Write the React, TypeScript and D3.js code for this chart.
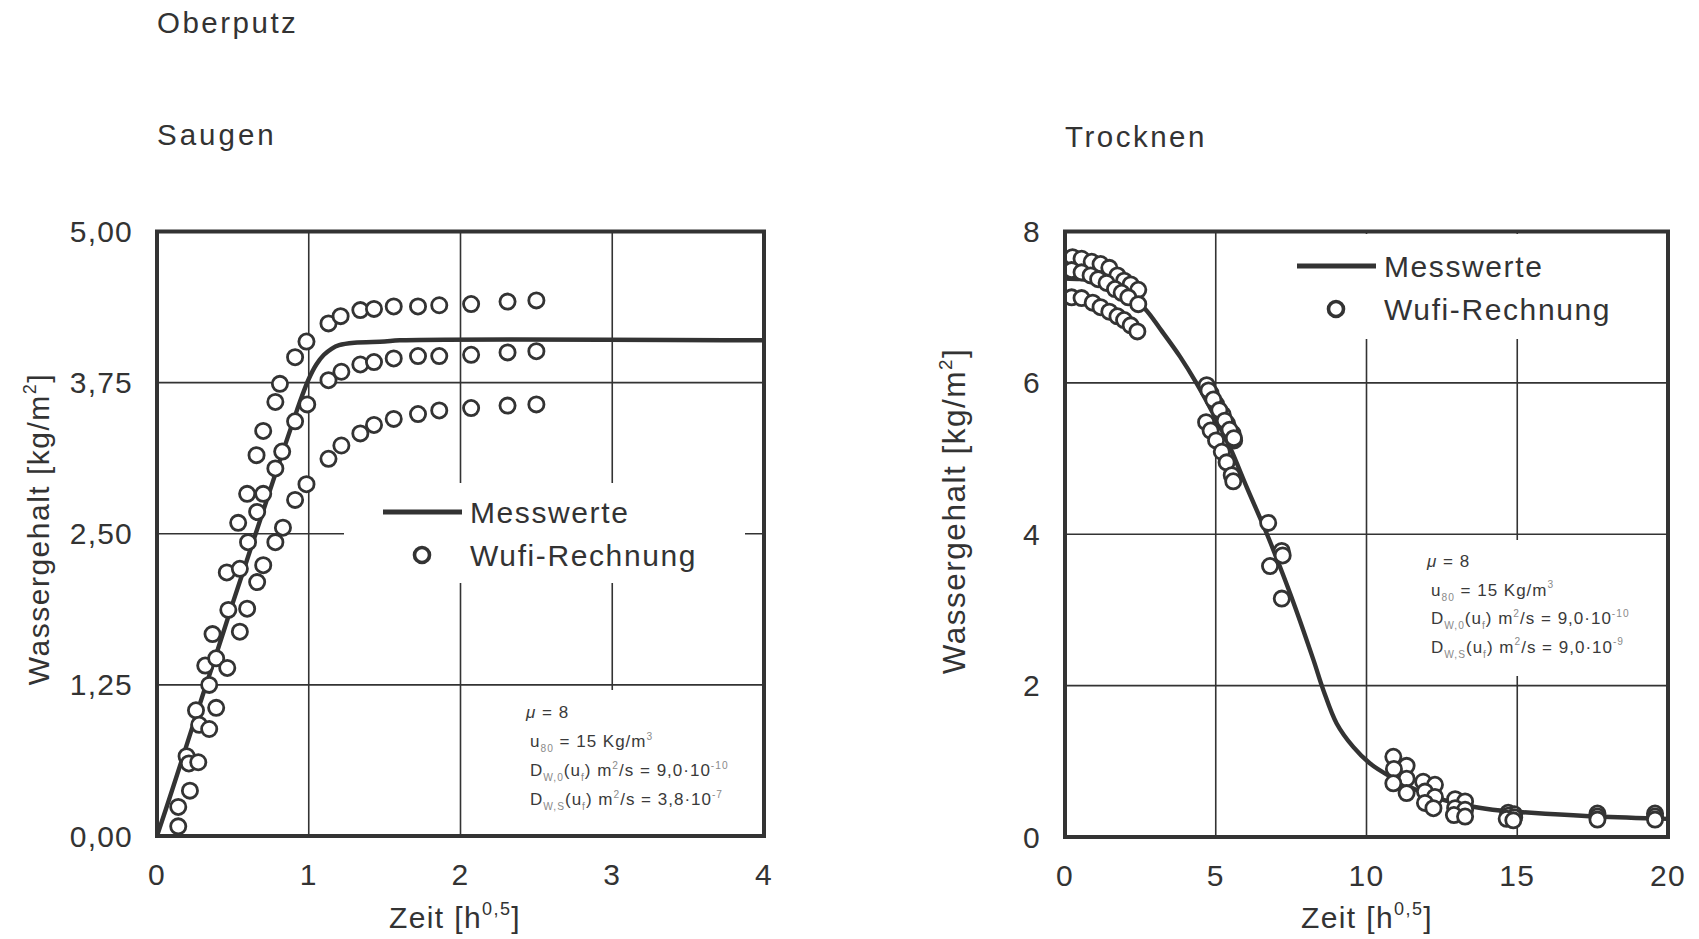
import React from 'react';
import * as d3 from 'd3';

const W = 1699;
const H = 939;
const INK = '#333333';
const FONT = '"Liberation Sans", Arial, Helvetica, sans-serif';

type Pt = [number, number];
type Seg = [string, 'n' | 'b' | 'p' | 'i'];

// ---------- Saugen (water uptake) ----------
const saugenXTicks = [0, 1, 2, 3, 4];
const saugenYTicks = [0, 1.25, 2.5, 3.75, 5];

const saugenMesswerte: Pt[] = [
  [0, 0], [0.1, 0.38], [0.2, 0.77], [0.3, 1.16], [0.4, 1.54], [0.5, 1.93],
  [0.6, 2.31], [0.7, 2.69], [0.8, 3.07], [0.9, 3.44], [0.95, 3.62], [1.0, 3.78],
  [1.05, 3.9], [1.1, 3.98], [1.15, 4.03], [1.2, 4.06], [1.3, 4.08], [1.5, 4.09],
  [1.6, 4.1], [4, 4.1],
];

const saugenWufiOben: Pt[] = [
  [0.14, 0.24], [0.195, 0.66], [0.257, 1.04], [0.318, 1.41], [0.366, 1.67],
  [0.46, 2.18], [0.535, 2.59], [0.594, 2.83], [0.656, 3.15], [0.7, 3.35],
  [0.78, 3.59], [0.81, 3.74], [0.91, 3.96], [0.985, 4.09], [1.13, 4.24],
  [1.21, 4.3], [1.34, 4.35], [1.43, 4.36], [1.56, 4.38], [1.72, 4.38],
  [1.86, 4.39], [2.07, 4.4], [2.31, 4.42], [2.5, 4.43],
];
const saugenWufiMitte: Pt[] = [
  [0.14, 0.08], [0.21, 0.6], [0.278, 0.92], [0.344, 1.25], [0.39, 1.47],
  [0.47, 1.87], [0.546, 2.21], [0.6, 2.43], [0.66, 2.68], [0.7, 2.83],
  [0.78, 3.04], [0.825, 3.18], [0.91, 3.43], [0.99, 3.57], [1.13, 3.77],
  [1.215, 3.84], [1.34, 3.9], [1.43, 3.92], [1.56, 3.95], [1.72, 3.97],
  [1.86, 3.97], [2.07, 3.98], [2.31, 4.0], [2.5, 4.01],
];
const saugenWufiUnten: Pt[] = [
  [0.217, 0.375], [0.272, 0.61], [0.344, 0.885], [0.39, 1.06], [0.463, 1.39],
  [0.546, 1.69], [0.594, 1.88], [0.66, 2.1], [0.7, 2.24], [0.78, 2.43],
  [0.83, 2.55], [0.91, 2.78], [0.985, 2.91], [1.13, 3.12], [1.215, 3.23],
  [1.34, 3.33], [1.43, 3.4], [1.56, 3.45], [1.72, 3.49], [1.86, 3.52],
  [2.07, 3.54], [2.31, 3.56], [2.5, 3.57],
];

const saugenNote: Seg[][] = [
  [['\u03bc', 'i'], [' = 8', 'n']],
  [['u', 'n'], ['80', 'b'], [' = 15 Kg/m', 'n'], ['3', 'p']],
  [['D', 'n'], ['W,0', 'b'], ['(u', 'n'], ['f', 'b'], [') m', 'n'], ['2', 'p'], ['/s = 9,0\u00b710', 'n'], ['-10', 'p']],
  [['D', 'n'], ['W,S', 'b'], ['(u', 'n'], ['f', 'b'], [') m', 'n'], ['2', 'p'], ['/s = 3,8\u00b710', 'n'], ['-7', 'p']],
];

// ---------- Trocknen (drying) ----------
const trocknenXTicks = [0, 5, 10, 15, 20];
const trocknenYTicks = [0, 2, 4, 6, 8];

const trocknenMesswerte: Pt[] = [
  [0, 7.38], [0.5, 7.37], [1, 7.34], [1.5, 7.28], [2, 7.2], [2.65, 6.98],
  [3.2, 6.69], [3.81, 6.35], [4.37, 5.99], [4.92, 5.59], [5.47, 5.15],
  [6.03, 4.62], [6.69, 4.01], [7.13, 3.57], [7.63, 3.04], [8.24, 2.34],
  [8.57, 1.94], [9.01, 1.5], [9.56, 1.19], [10.12, 0.97], [10.78, 0.8],
  [11.66, 0.62], [12.55, 0.49], [13.54, 0.4], [14.43, 0.35], [15.09, 0.33],
  [17.63, 0.27], [20, 0.24],
];

const trocknenWufiOben: Pt[] = [
  [0.25, 7.66], [0.55, 7.64], [0.885, 7.6], [1.18, 7.57], [1.47, 7.52],
  [1.74, 7.42], [1.96, 7.35], [2.18, 7.3], [2.43, 7.23],
  [4.7, 5.97], [4.83, 5.86], [5.01, 5.72], [5.23, 5.58], [5.38, 5.46],
  [5.56, 5.33], [5.61, 5.24],
  [6.74, 4.15], [7.19, 3.78],
  [10.89, 1.06], [11.33, 0.94], [11.88, 0.73], [12.27, 0.69], [12.94, 0.5],
  [13.27, 0.47], [14.7, 0.32], [14.9, 0.3], [17.66, 0.31], [19.57, 0.31],
];
const trocknenWufiMitte: Pt[] = [
  [0.22, 7.49], [0.55, 7.46], [0.85, 7.42], [1.1, 7.37], [1.38, 7.32],
  [1.66, 7.24], [1.88, 7.19], [2.1, 7.13], [2.43, 7.04],
  [4.76, 5.9], [4.92, 5.78], [5.12, 5.64], [5.3, 5.5], [5.46, 5.38],
  [5.6, 5.27],
  [7.22, 3.72],
  [10.91, 0.9], [11.33, 0.77], [11.94, 0.6], [12.27, 0.53], [12.94, 0.38],
  [13.27, 0.36], [14.7, 0.28], [14.9, 0.26], [17.66, 0.27], [19.57, 0.27],
];
const trocknenWufiUnten: Pt[] = [
  [0.22, 7.13], [0.55, 7.12], [0.92, 7.06], [1.18, 7.0], [1.47, 6.94],
  [1.74, 6.88], [1.96, 6.83], [2.18, 6.76], [2.4, 6.68],
  [4.68, 5.48], [4.83, 5.37], [5.01, 5.24], [5.2, 5.09], [5.36, 4.95],
  [5.53, 4.78], [5.58, 4.7],
  [6.8, 3.58], [7.19, 3.15],
  [10.89, 0.71], [11.33, 0.58], [11.94, 0.45], [12.22, 0.38], [12.9, 0.29],
  [13.27, 0.27], [14.65, 0.24], [14.87, 0.22], [17.66, 0.23], [19.57, 0.23],
];

const trocknenNote: Seg[][] = [
  [['\u03bc', 'i'], [' = 8', 'n']],
  [['u', 'n'], ['80', 'b'], [' = 15 Kg/m', 'n'], ['3', 'p']],
  [['D', 'n'], ['W,0', 'b'], ['(u', 'n'], ['f', 'b'], [') m', 'n'], ['2', 'p'], ['/s = 9,0\u00b710', 'n'], ['-10', 'p']],
  [['D', 'n'], ['W,S', 'b'], ['(u', 'n'], ['f', 'b'], [') m', 'n'], ['2', 'p'], ['/s = 9,0\u00b710', 'n'], ['-9', 'p']],
];

const yTitle: Seg[] = [['Wassergehalt [kg/m', 'n'], ['2', 'p'], [']', 'n']];
const xTitle: Seg[] = [['Zeit [h', 'n'], ['0,5', 'p'], [']', 'n']];
const legendLine = 'Messwerte';
const legendDots = 'Wufi-Rechnung';

// Text with sub- and superscripts built from tspans.
function Rich({ x, y, segs, size, spacing = 0, color = INK, minor = INK, anchor = 'start', transform }: {
  x: number; y: number; segs: Seg[]; size: number; spacing?: number; color?: string;
  minor?: string; anchor?: string; transform?: string;
}) {
  let off = 0;
  return (
    <text x={x} y={y} fontSize={size} fontFamily={FONT} fill={color} letterSpacing={spacing}
      textAnchor={anchor as any} transform={transform}>
      {segs.map(([t, k], i) => {
        const small = k === 'b' || k === 'p';
        const target = k === 'b' ? size * 0.32 : k === 'p' ? -size * 0.42 : 0;
        const dy = target - off;
        off = target;
        return (
          <tspan key={i} dy={dy} fontSize={small ? size * 0.6 : size} fill={small ? minor : color}
            fontStyle={k === 'i' ? 'italic' : undefined}>{t}</tspan>
        );
      })}
    </text>
  );
}

interface PanelCfg {
  id: string;
  left: number; right: number; top: number; bottom: number;
  xTicks: number[]; yTicks: number[];
  yFmt: (v: number) => string;
  curve: Pt[];
  dots: Pt[][];
  legend: { x: number; y: number };
  legendBox: [number, number, number, number];
  noteBox: [number, number, number, number];
  note: Seg[][];
  notePos: { x: number; y: number; step: number };
  yTitlePos: { x: number; y: number; size: number };
  xTitleX: number;
}

function Panel({ c }: { c: PanelCfg }) {
  const x = d3.scaleLinear().domain([c.xTicks[0], c.xTicks[c.xTicks.length - 1]]).range([c.left, c.right]);
  const y = d3.scaleLinear().domain([c.yTicks[0], c.yTicks[c.yTicks.length - 1]]).range([c.bottom, c.top]);
  const line = d3.line<Pt>().x(d => x(d[0])).y(d => y(d[1])).curve(d3.curveCatmullRom.alpha(0.5));
  const clipId = `clip-${c.id}`;
  const big = 30;
  return (
    <g>
      <defs>
        <clipPath id={clipId}>
          <rect x={c.left} y={c.top} width={c.right - c.left} height={c.bottom - c.top} />
        </clipPath>
      </defs>
      {c.xTicks.slice(1, -1).map(t => (
        <line key={`gx${t}`} x1={x(t)} x2={x(t)} y1={c.top} y2={c.bottom} stroke={INK} strokeWidth={1.6} />
      ))}
      {c.yTicks.slice(1, -1).map(t => (
        <line key={`gy${t}`} x1={c.left} x2={c.right} y1={y(t)} y2={y(t)} stroke={INK} strokeWidth={1.6} />
      ))}
      <rect x={c.legendBox[0]} y={c.legendBox[1]} width={c.legendBox[2]} height={c.legendBox[3]} fill="#fff" />
      <rect x={c.noteBox[0]} y={c.noteBox[1]} width={c.noteBox[2]} height={c.noteBox[3]} fill="#fff" />
      <g clipPath={`url(#${clipId})`}>
        <path d={line(c.curve) || ''} fill="none" stroke={INK} strokeWidth={4.4} strokeLinejoin="round" />
        {c.dots.map((s, si) => s.map((d, i) => (
          <circle key={`d${si}-${i}`} cx={x(d[0])} cy={y(d[1])} r={7.6} fill="#fff" stroke={INK} strokeWidth={2.8} />
        )))}
      </g>
      <rect x={c.left} y={c.top} width={c.right - c.left} height={c.bottom - c.top} fill="none" stroke={INK} strokeWidth={4} />
      {c.xTicks.map(t => (
        <text key={`tx${t}`} x={x(t)} y={c.bottom + 49} textAnchor="middle" fontSize={big} fontFamily={FONT}
          fill={INK} letterSpacing={1.2}>{t}</text>
      ))}
      {c.yTicks.map(t => (
        <text key={`ty${t}`} x={c.left - 24} y={y(t) + 10.5} textAnchor="end" fontSize={big} fontFamily={FONT}
          fill={INK} letterSpacing={1.2}>{c.yFmt(t)}</text>
      ))}
      <Rich x={c.xTitleX} y={928} segs={xTitle} size={big} spacing={1.4} anchor="middle" />
      <Rich x={0} y={0} segs={yTitle} size={c.yTitlePos.size} spacing={1.5} anchor="middle"
        transform={`translate(${c.yTitlePos.x},${c.yTitlePos.y}) rotate(-90)`} />
      <line x1={c.legend.x} x2={c.legend.x + 79} y1={c.legend.y} y2={c.legend.y} stroke={INK} strokeWidth={5} />
      <text x={c.legend.x + 87} y={c.legend.y + 11} fontSize={big} fontFamily={FONT} fill={INK} letterSpacing={1.6}>{legendLine}</text>
      <circle cx={c.legend.x + 39} cy={c.legend.y + 43} r={7.5} fill="#fff" stroke={INK} strokeWidth={3.6} />
      <text x={c.legend.x + 87} y={c.legend.y + 54} fontSize={big} fontFamily={FONT} fill={INK} letterSpacing={1.6}>{legendDots}</text>
      {c.note.map((segs, i) => (
        <Rich key={`n${i}`} x={c.notePos.x + (i === 0 ? 0 : 4)} y={c.notePos.y + i * c.notePos.step} segs={segs} size={17}
          spacing={1.0} color="#3a3a3a" minor="#8a8a8a" />
      ))}
    </g>
  );
}

const fmtComma = (v: number) => d3.format('.2f')(v).replace('.', ',');

const saugen: PanelCfg = {
  id: 'saugen',
  left: 157, right: 764, top: 231.5, bottom: 836,
  xTicks: saugenXTicks, yTicks: saugenYTicks,
  yFmt: fmtComma,
  curve: saugenMesswerte,
  dots: [saugenWufiOben, saugenWufiMitte, saugenWufiUnten],
  legend: { x: 383, y: 512 },
  legendBox: [344, 483, 401, 100],
  noteBox: [490, 690, 270, 144],
  note: saugenNote,
  notePos: { x: 526, y: 718, step: 29 },
  yTitlePos: { x: 49, y: 529, size: 30 },
  xTitleX: 455,
};

const trocknen: PanelCfg = {
  id: 'trocknen',
  left: 1065, right: 1668, top: 231.5, bottom: 837,
  xTicks: trocknenXTicks, yTicks: trocknenYTicks,
  yFmt: (v: number) => String(v),
  curve: trocknenMesswerte,
  dots: [trocknenWufiOben, trocknenWufiMitte, trocknenWufiUnten],
  legend: { x: 1297, y: 266 },
  legendBox: [1258, 234, 407, 105],
  noteBox: [1405, 540, 261, 136],
  note: trocknenNote,
  notePos: { x: 1427, y: 567, step: 28.5 },
  yTitlePos: { x: 965, y: 511, size: 31.5 },
  xTitleX: 1367,
};

export default function App() {
  return (
    <svg width={W} height={H} viewBox={`0 0 ${W} ${H}`}
      style={{ position: 'absolute', left: 0, top: 0, background: '#fff' }}>
      <rect x={0} y={0} width={W} height={H} fill="#fff" />
      <text x={157} y={33} fontSize={29.5} fontFamily={FONT} fill={INK} letterSpacing={2.5}>Oberputz</text>
      <text x={157} y={145} fontSize={29.5} fontFamily={FONT} fill={INK} letterSpacing={3}>Saugen</text>
      <text x={1065} y={147} fontSize={29.5} fontFamily={FONT} fill={INK} letterSpacing={2.5}>Trocknen</text>
      <Panel c={saugen} />
      <Panel c={trocknen} />
    </svg>
  );
}
